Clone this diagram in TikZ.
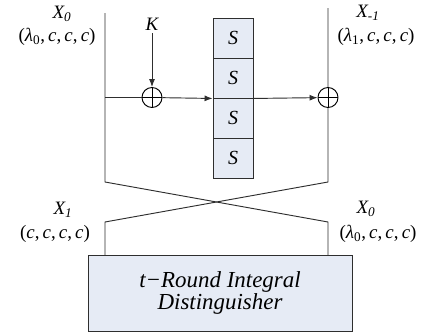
\documentclass[tikz,border=0pt]{standalone}
\usepackage{fontspec}
\setmainfont{Liberation Serif}
\usepackage{tikz}
\usetikzlibrary{arrows.meta,positioning,calc}
\definecolor{CipherFill}{HTML}{E6EBF5}
\definecolor{CipherLine}{HTML}{2E2E2E}
\newcommand{\labelfont}{\itshape\fontsize{14.2}{15}\selectfont}

\begin{document}
\begin{tikzpicture}[x=0.75pt,y=-0.75pt,
    wire/.style={
      draw=CipherLine,
      line width=0.7pt
    },
    flow/.style={
      wire,
      -{Latex[length=6pt,width=4.5pt]}
    },
    sbox/.style={
      draw=CipherLine,
      fill=CipherFill,
      line width=0.7pt,
      minimum width=30pt,
      minimum height=30pt,
      inner sep=0pt,
      font=\itshape\fontsize{15}{15}\selectfont
    },
    xor/.style={
      circle,
      draw=black,
      line width=0.7pt,
      minimum size=15pt,
      inner sep=0pt,
      path picture={
        \draw[line width=0.7pt] (path picture bounding box.north) -- (path picture bounding box.south)
          (path picture bounding box.west) -- (path picture bounding box.east);
      }
    },
    state/.style={
      align=center,
      inner sep=0pt,
      font=\labelfont
    },
    distbox/.style={
      draw=CipherLine,
      fill=CipherFill,
      line width=0.7pt,
      minimum width=198pt,
      minimum height=57pt,
      align=center,
      inner sep=0pt,
      font=\itshape\fontsize{17.2}{16.5}\selectfont
    }
  ]
    \useasboundingbox (0,0) rectangle (422,336);

    % S-box column
    \foreach \i in {1,...,4}
      \node[sbox] (s\i) at (233,-2+40*\i) {S};

    \node[xor] (xorL) at (152,97.5) {};
    \node[xor] (xorR) at (328,97.5) {};
    \node[state] (key) at (152,24) {K};

    \node[distbox] (dist) at (220,293) {t−Round Integral\\Distinguisher};

    % state labels
    \node[state] (x0top) at (62,14) {X\textsubscript{0}};
    \node[state] (x0val) at (57,37) {\upshape(\textit{λ}\textsubscript{0},\,\textit{c},\,\textit{c},\,\textit{c})};
    \node[state] (xm1top) at (368,13) {X\textsubscript{-1}};
    \node[state] (xm1val) at (376,37) {\upshape(\textit{λ}\textsubscript{1},\,\textit{c},\,\textit{c},\,\textit{c})};
    \node[state] (x1bot) at (63,210) {X\textsubscript{1}};
    \node[state] (x1val) at (55,234) {\upshape(\textit{c},\,\textit{c},\,\textit{c},\,\textit{c})};
    \node[state] (x0bot) at (366,209) {X\textsubscript{0}};
    \node[state] (x0bval) at (378,234) {\upshape(\textit{λ}\textsubscript{0},\,\textit{c},\,\textit{c},\,\textit{c})};

    % branch points
    \coordinate (topL) at (105,13);
    \coordinate (tapL) at (105,97.5);
    \coordinate (midL) at (105,182);
    \coordinate (lowL) at (105,222);
    \coordinate (botL) at (105,255);
    \coordinate (topR) at (328,8);
    \coordinate (midR) at (328,182);
    \coordinate (lowR) at (328,222);
    \coordinate (botR) at (328,255);

    \draw[wire] (topL) -- (tapL) -- (midL) -- (lowR) -- (botR);
    \draw[wire] (topR) -- (xorR) -- (midR) -- (lowL) -- (botL);
    \draw[wire] (tapL) -- (xorL);
    \draw[flow] ([yshift=-2pt]key.south) -- (xorL);
    \draw[flow] (xorL) -- (s2.south west);
    \draw[flow] (s2.south east) -- (xorR);
  \end{tikzpicture}
\end{document}
